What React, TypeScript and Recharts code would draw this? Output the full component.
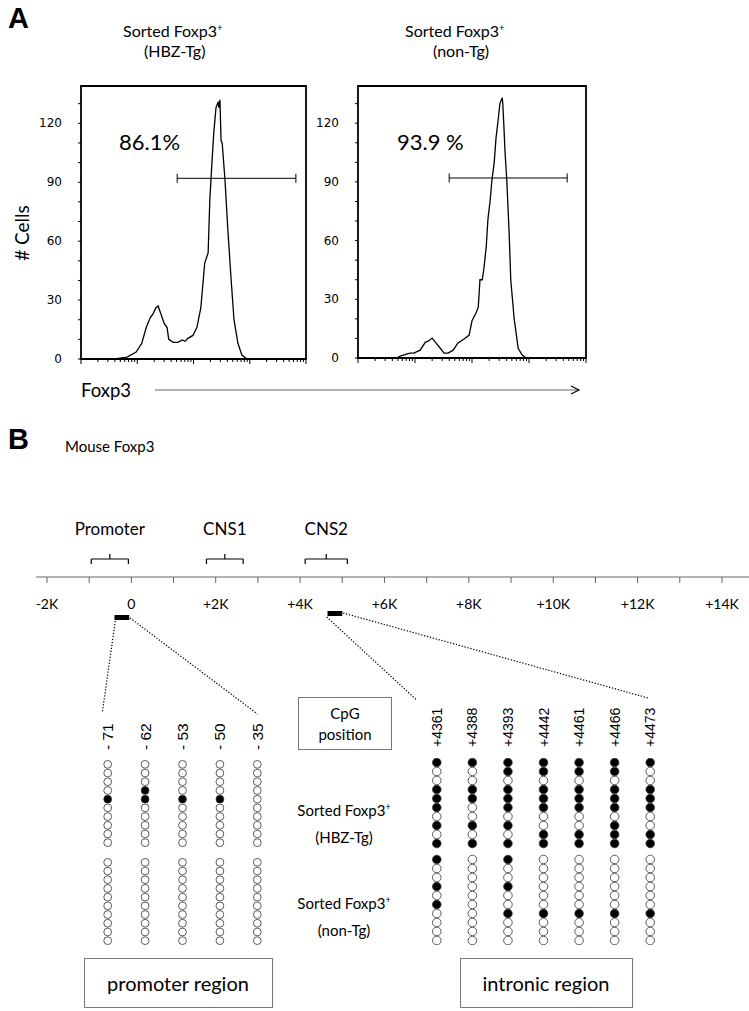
import React from 'react';
import {
  LineChart,
  Line,
  ScatterChart,
  Scatter,
  XAxis,
  YAxis,
  ReferenceLine,
  ReferenceArea,
} from 'recharts';

const SANS = 'Lato, "Open Sans", sans-serif';
const ARIAL = '"Liberation Sans", Arial, sans-serif';

// Panel A: Foxp3 histograms, x in log decades (0-4), y = # cells
const hbzLog = [0, 0.6, 0.66, 0.82, 0.98, 1.08, 1.16, 1.23, 1.28, 1.33, 1.37, 1.42, 1.48, 1.53, 1.56, 1.64, 1.72, 1.8, 1.85, 1.9, 1.99, 2.06, 2.13, 2.2, 2.26, 2.29, 2.33, 2.36, 2.4, 2.44, 2.45, 2.47, 2.49, 2.51, 2.56, 2.61, 2.67, 2.72, 2.79, 2.86, 2.95, 4];
const hbzCount = [0, 0, 0.3, 1, 3.5, 8, 16, 21, 23, 26, 27, 23, 18, 16, 10, 8.5, 8.5, 9.7, 9, 10.5, 12, 16, 26, 49, 54, 81, 101, 115, 128, 131, 128, 132, 111, 110, 91, 66, 40, 20, 8, 2, 0, 0];
const nonLog = [0, 0.68, 0.74, 0.91, 0.98, 1.09, 1.18, 1.23, 1.3, 1.37, 1.44, 1.51, 1.58, 1.67, 1.75, 1.86, 1.95, 2.0, 2.07, 2.11, 2.14, 2.18, 2.21, 2.25, 2.28, 2.32, 2.35, 2.39, 2.42, 2.46, 2.49, 2.53, 2.54, 2.56, 2.58, 2.61, 2.65, 2.68, 2.74, 2.81, 2.88, 2.95, 4];
const nonCount = [0, 0, 1, 2.5, 2.5, 4, 8, 8.6, 10.2, 7.6, 5.1, 2.5, 2.5, 4, 7.6, 9.7, 11.7, 19, 23, 26, 40, 40, 46, 57, 71, 81, 91, 100, 112, 122, 130, 133, 130, 118, 105, 91, 65, 40, 20, 5, 1.5, 0, 0];
const countTicks = [0, 10, 20, 30, 40, 50, 60, 70, 80, 90, 100, 110, 120, 130];
const hbzGate = [1.71, 3.82];
const nonGate = [1.6, 3.67];
const gateLevel = 92;

// Panel B: Foxp3 locus (kb)
const locusTicks = [-2, -1, 0, 1, 2, 3, 4, 5, 6, 7, 8, 9, 10, 11, 12, 13, 14];
const regionNames = ['Promoter', 'CNS1', 'CNS2'];
const regionFrom = [-0.95, 1.78, 4.12];
const regionTo = [-0.07, 2.65, 5.12];
const ampliconFrom = [-0.4, 4.65];
const ampliconTo = [-0.05, 5.0];

// methylation: 1 = methylated (filled), one array per CpG site, 10 clones each
const promoterSites = ['- 71', '- 62', '- 53', '- 50', '- 35'];
const promoterHbz = [
  [0, 0, 0, 0, 1, 0, 0, 0, 0, 0],
  [0, 0, 0, 1, 1, 0, 0, 0, 0, 0],
  [0, 0, 0, 0, 1, 0, 0, 0, 0, 0],
  [0, 0, 0, 0, 1, 0, 0, 0, 0, 0],
  [0, 0, 0, 0, 0, 0, 0, 0, 0, 0],
];
const promoterNonTg = [
  [0, 0, 0, 0, 0, 0, 0, 0, 0, 0],
  [0, 0, 0, 0, 0, 0, 0, 0, 0, 0],
  [0, 0, 0, 0, 0, 0, 0, 0, 0, 0],
  [0, 0, 0, 0, 0, 0, 0, 0, 0, 0],
  [0, 0, 0, 0, 0, 0, 0, 0, 0, 0],
];
const intronSites = ['+4361', '+4388', '+4393', '+4442', '+4461', '+4466', '+4473'];
const intronHbz = [
  [1, 0, 0, 1, 1, 1, 0, 1, 0, 1],
  [1, 0, 0, 1, 1, 0, 0, 1, 0, 1],
  [1, 1, 0, 1, 1, 1, 0, 1, 0, 1],
  [1, 1, 0, 1, 1, 1, 0, 0, 1, 1],
  [1, 1, 0, 1, 1, 1, 0, 0, 1, 1],
  [1, 1, 0, 1, 1, 1, 0, 1, 1, 1],
  [1, 0, 0, 1, 1, 1, 0, 0, 1, 1],
];
const intronNonTg = [
  [1, 0, 0, 1, 0, 1, 0, 0, 0, 0],
  [0, 0, 0, 0, 0, 0, 0, 0, 0, 0],
  [1, 0, 0, 1, 0, 0, 1, 0, 0, 0],
  [0, 0, 0, 0, 0, 0, 1, 0, 0, 0],
  [0, 0, 0, 0, 0, 0, 1, 0, 0, 0],
  [0, 0, 0, 0, 0, 0, 1, 0, 0, 0],
  [0, 0, 0, 0, 0, 0, 1, 0, 0, 0],
];

// log tick positions for the FACS x axis
const facsTicks: number[] = [];
for (let d = 0; d < 4; d++) for (let k = 1; k < 10; k++) facsTicks.push(d + Math.log10(k));
facsTicks.push(4);

const toRows = (xs: number[], ys: number[]) => xs.map((x, i) => ({ x, y: ys[i] }));

function toDots(hbz: number[][], non: number[][], gap: number) {
  const pts: { col: number; row: number; m: number }[] = [];
  hbz.forEach((clones, i) => clones.forEach((m, k) => pts.push({ col: i, row: k, m })));
  non.forEach((clones, i) => clones.forEach((m, k) => pts.push({ col: i, row: k + gap, m })));
  return pts;
}

const FacsXTick = (p: any) => {
  const v = p.payload.value;
  const major = Math.abs(v - Math.round(v)) < 1e-6;
  return <line x1={p.x} x2={p.x} y1={p.y} y2={p.y + (major ? 5 : 3)} stroke="#000" strokeWidth={1} />;
};

const FacsYTick = (p: any) => {
  const v = p.payload.value;
  return (
    <g>
      <line x1={p.x - 3} x2={p.x} y1={p.y} y2={p.y} stroke="#000" strokeWidth={1} />
      {v % 30 === 0 && (
        <text x={p.x - 19} y={p.y} textAnchor="end" dominantBaseline="central" fontSize={12} fontFamily='"DejaVu Sans", sans-serif' fill="#000">
          {v}
        </text>
      )}
    </g>
  );
};

function Histogram({ rows, gate, left, width, height, top }: { rows: { x: number; y: number }[]; gate: number[]; left: number; width: number; height: number; top: number }) {
  return (
    <div style={{ position: 'absolute', left, top }}>
      <LineChart width={width} height={height} data={rows} margin={{ top: 6, right: 10, bottom: 0, left: 0 }}>
        <XAxis type="number" dataKey="x" domain={[0, 4]} ticks={facsTicks} interval={0} allowDataOverflow axisLine={false} tickLine={false} tickSize={0} tickMargin={0} height={10} tick={<FacsXTick />} />
        <YAxis type="number" domain={[0, 139]} ticks={countTicks} interval={0} allowDataOverflow axisLine={false} tickLine={false} tickSize={0} tickMargin={0} width={51} tick={<FacsYTick />} />
        <ReferenceArea x1={0} x2={4} y1={0} y2={139} fill="none" fillOpacity={0} stroke="#000" strokeWidth={1.8} />
        <ReferenceLine segment={[{ x: gate[0], y: gateLevel }, { x: gate[1], y: gateLevel }]} stroke="#000" strokeWidth={1} />
        <ReferenceLine segment={[{ x: gate[0], y: gateLevel - 2.3 }, { x: gate[0], y: gateLevel + 2.3 }]} stroke="#000" strokeWidth={1} />
        <ReferenceLine segment={[{ x: gate[1], y: gateLevel - 2.3 }, { x: gate[1], y: gateLevel + 2.3 }]} stroke="#000" strokeWidth={1} />
        <Line type="linear" dataKey="y" stroke="#000" strokeWidth={1.3} dot={false} isAnimationActive={false} />
      </LineChart>
    </div>
  );
}

const LocusTick = (p: any) => {
  const v = p.payload.value;
  const label = v === 0 ? '0' : v < 0 ? `${v}K` : `+${v}K`;
  return (
    <g>
      <line x1={p.x} x2={p.x} y1={p.y} y2={p.y + 6} stroke="#666" strokeWidth={1} />
      {v % 2 === 0 && (
        <text x={p.x} y={p.y + 26} textAnchor="middle" dominantBaseline="central" fontSize={14} fontFamily={SANS} fill="#000">
          {label}
        </text>
      )}
    </g>
  );
};

const RegionLabel = (p: any) => (
  <text x={p.cx} y={p.cy} textAnchor="middle" dominantBaseline="central" fontSize={17} fontFamily={SANS} fill="#000">
    {p.payload.name}
  </text>
);

function LocusMap() {
  const labels = regionNames.map((name, i) => ({ name, x: (regionFrom[i] + regionTo[i]) / 2, y: 49 }));
  const dotted = { stroke: '#000', strokeWidth: 1.2, strokeDasharray: '1.3 1.7', ifOverflow: 'visible' as const };
  return (
    <div style={{ position: 'absolute', left: 36, top: 500 }}>
      <ScatterChart width={713} height={220} margin={{ top: 0, right: 0, bottom: 113, left: 0 }}>
        <XAxis type="number" dataKey="x" domain={[-2.26, 14.64]} ticks={locusTicks} interval={0} allowDataOverflow axisLine={{ stroke: '#666', strokeWidth: 1 }} tickLine={false} tickSize={0} tickMargin={0} height={30} tick={<LocusTick />} />
        <YAxis type="number" dataKey="y" domain={[0, 77]} allowDataOverflow hide />
        {regionNames.map((n, i) => (
          <React.Fragment key={n}>
            <ReferenceLine segment={[{ x: regionFrom[i], y: 18 }, { x: regionTo[i], y: 18 }]} stroke="#000" strokeWidth={1.2} />
            <ReferenceLine segment={[{ x: regionFrom[i], y: 18 }, { x: regionFrom[i], y: 13 }]} stroke="#000" strokeWidth={1.2} />
            <ReferenceLine segment={[{ x: regionTo[i], y: 18 }, { x: regionTo[i], y: 13 }]} stroke="#000" strokeWidth={1.2} />
            <ReferenceLine segment={[{ x: (regionFrom[i] + regionTo[i]) / 2, y: 18 }, { x: (regionFrom[i] + regionTo[i]) / 2, y: 23 }]} stroke="#000" strokeWidth={1.2} />
          </React.Fragment>
        ))}
        <ReferenceArea x1={ampliconFrom[0]} x2={ampliconTo[0]} y1={-43} y2={-38} fill="#000" fillOpacity={1} stroke="none" ifOverflow="visible" />
        <ReferenceArea x1={ampliconFrom[1]} x2={ampliconTo[1]} y1={-39} y2={-34} fill="#000" fillOpacity={1} stroke="none" ifOverflow="visible" />
        <ReferenceLine segment={[{ x: ampliconFrom[0] + 0.02, y: -44 }, { x: -0.69, y: -136 }]} {...dotted} />
        <ReferenceLine segment={[{ x: ampliconTo[0] + 0.02, y: -41 }, { x: 2.99, y: -137 }]} {...dotted} />
        <ReferenceLine segment={[{ x: ampliconFrom[1] - 0.02, y: -40 }, { x: 6.76, y: -123 }]} {...dotted} />
        <ReferenceLine segment={[{ x: ampliconTo[1] + 0.02, y: -36 }, { x: 12.25, y: -121 }]} {...dotted} />
        <Scatter data={labels} shape={<RegionLabel />} isAnimationActive={false} />
      </ScatterChart>
    </div>
  );
}

function SiteTick(p: any, sites: string[], size: number) {
  return (
    <text x={p.x} y={p.y} transform={`rotate(-90, ${p.x}, ${p.y})`} textAnchor="start" dominantBaseline="central" fontSize={size} fontFamily={ARIAL} fill="#000">
      {sites[p.payload.value]}
    </text>
  );
}

function DotGrid({ sites, hbz, non, gap, left, top, width, height, tickMargin, r, fontSize }: any) {
  const pts = toDots(hbz, non, gap);
  const idx = sites.map((_: string, i: number) => i);
  return (
    <div style={{ position: 'absolute', left, top }}>
      <ScatterChart width={width} height={height} margin={{ top: 0, right: 0, bottom: 0, left: 0 }}>
        <XAxis type="number" dataKey="col" orientation="top" domain={[-0.5, sites.length - 0.5]} ticks={idx} interval={0} axisLine={false} tickLine={false} tickSize={0} tickMargin={tickMargin} height={60} tick={(p: any) => SiteTick(p, sites, fontSize)} />
        <YAxis type="number" dataKey="row" reversed domain={[-0.5, gap + 9.5]} allowDataOverflow hide />
        <Scatter
          data={pts}
          isAnimationActive={false}
          shape={(p: any) => (
            <circle cx={p.cx} cy={p.cy} r={r} fill={p.payload.m ? '#000' : '#fff'} stroke="#333" strokeWidth={0.8} />
          )}
        />
      </ScatterChart>
    </div>
  );
}

const Sup = () => (
  <tspan dy={-6} fontSize="0.6em">+</tspan>
);

export default function App() {
  return (
    <div style={{ position: 'absolute', left: 0, top: 0, width: 749, height: 1011, background: '#fff' }}>
      <svg width={749} height={1011} style={{ position: 'absolute', left: 0, top: 0 }}>
        <text x={8} y={28} fontSize={29} fontWeight="bold" fontFamily={ARIAL} fill="#000">A</text>
        <text x={8} y={449} fontSize={29} fontWeight="bold" fontFamily={ARIAL} fill="#000">B</text>

        <g fontFamily={SANS} fontSize={16} fill="#000">
          <text x={123} y={37}>Sorted Foxp3<Sup /></text>
          <text x={144} y={57}>(HBZ-Tg)</text>
          <text x={405} y={37}>Sorted Foxp3<Sup /></text>
          <text x={433} y={57}>(non-Tg)</text>
        </g>
        <text x={119} y={150} fontSize={22} fontFamily={SANS} fill="#000">86.1%</text>
        <text x={397} y={150} fontSize={22} fontFamily={SANS} fill="#000">93.9 %</text>
        <text x={29} y={233} transform="rotate(-90, 29, 233)" textAnchor="middle" fontSize={19} fontFamily={SANS} fill="#000">
          # Cells
        </text>
        <text x={81} y={397} fontSize={18.5} fontFamily={SANS} fill="#000">Foxp3</text>
        <line x1={155} x2={578} y1={390} y2={390} stroke="#666" strokeWidth={1} />
        <polyline points="571,386 579,390 571,394" fill="none" stroke="#000" strokeWidth={1.2} />

        <text x={65} y={452} fontSize={15} fontFamily={SANS} fill="#000">Mouse Foxp3</text>

        <rect x={298.5} y={697.5} width={93} height={52} fill="#fff" stroke="#777" strokeWidth={1} />
        <text x={345} y={719} textAnchor="middle" fontSize={15} fontFamily={SANS} fill="#000">CpG</text>
        <text x={345} y={740} textAnchor="middle" fontSize={15} fontFamily={SANS} fill="#000">position</text>

        <g fontFamily={SANS} fontSize={15} fill="#000" textAnchor="middle">
          <text x={344} y={816}>Sorted Foxp3<Sup /></text>
          <text x={344} y={843}>(HBZ-Tg)</text>
          <text x={344} y={909}>Sorted Foxp3<Sup /></text>
          <text x={344} y={936}>(non-Tg)</text>
        </g>

        <rect x={84.5} y={958.5} width={188} height={49} fill="#fff" stroke="#777" strokeWidth={1} />
        <text x={178} y={991} textAnchor="middle" fontSize={20} fontFamily={SANS} fill="#000">promoter region</text>
        <rect x={460.5} y={958.5} width={172} height={49} fill="#fff" stroke="#777" strokeWidth={1} />
        <text x={546} y={991} textAnchor="middle" fontSize={20} fontFamily={SANS} fill="#000">intronic region</text>
      </svg>

      <Histogram rows={toRows(hbzLog, hbzCount)} gate={hbzGate} left={30} top={80} width={286} height={289} />
      <Histogram rows={toRows(nonLog, nonCount)} gate={nonGate} left={307} top={80} width={289} height={288} />

      <LocusMap />

      <DotGrid sites={promoterSites} hbz={promoterHbz} non={promoterNonTg} gap={11.26} left={89} top={700} width={187} height={245} tickMargin={10} r={3.9} fontSize={15.5} />
      <DotGrid sites={intronSites} hbz={intronHbz} non={intronNonTg} gap={10.78} left={419} top={698} width={249} height={247} tickMargin={11} r={4.3} fontSize={14} />
    </div>
  );
}
